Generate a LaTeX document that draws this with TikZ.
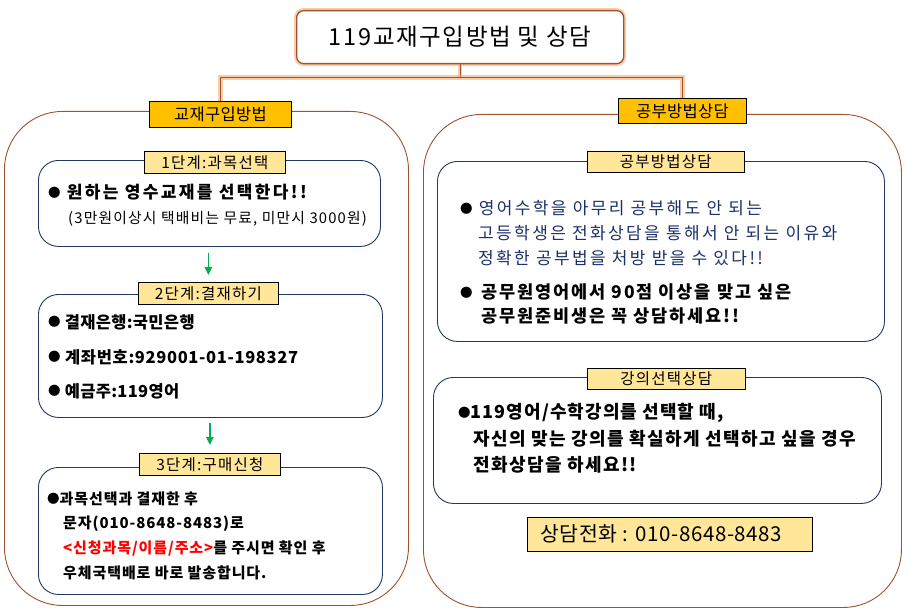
\documentclass[tikz,border=0pt]{standalone}
\usepackage{fontspec}
\setmainfont{Noto Sans CJK KR}
\usetikzlibrary{arrows.meta}
\definecolor{brn}{HTML}{A0522D}
\definecolor{glow}{HTML}{F4A460}
\definecolor{navy}{HTML}{1F3864}
\definecolor{navytxt}{HTML}{1B2F6B}
\definecolor{gold}{HTML}{FFC000}
\definecolor{lite}{HTML}{FFE699}
\definecolor{grn}{HTML}{00B050}
\definecolor{red}{HTML}{FF0000}
\newcommand{\mybul}{{\fontsize{12.5}{12}\selectfont\raisebox{1.2pt}{●}}}
\newcommand{\ls}[1]{\addfontfeatures{LetterSpace=#1}}
\begin{document}
\begin{tikzpicture}[x=1pt,y=-1pt,
  region/.style={draw=brn, line width=0.9, rounded corners=58, anchor=north west, inner sep=0},
  stepbox/.style={draw=navy, line width=0.9, rounded corners=20, anchor=north west, inner sep=0},
  steplab/.style={draw=black, line width=0.7, fill=lite, inner sep=0, anchor=north west, font=\fontsize{15.5}{17}\selectfont\ls{8}},
  seclab/.style={draw=black, line width=0.8, fill=gold, inner sep=0, anchor=north west, font=\fontsize{16.5}{18}\selectfont\ls{2}},
  txt/.style={anchor=west, inner sep=0},
  conn/.style={draw=brn, line width=1.3, preaction={draw=glow, line width=4.5, opacity=0.55}},
  garrow/.style={draw=grn, line width=1.4, -{Triangle[length=8pt,width=7.5pt]}}
]
\useasboundingbox (0,0) rectangle (909,615);

% regions
\node[region, minimum width=404, minimum height=494] (regL) at (4,111) {};
\node[region, minimum width=478, minimum height=493] (regR) at (423,114) {};

% title
\node[draw=brn, line width=1.3, rounded corners=7, fill=white, anchor=north west,
  minimum width=327, minimum height=53, inner sep=0,
  preaction={draw=glow, line width=5, opacity=0.55, rounded corners=7},
  font=\fontsize{23.5}{26}\selectfont\ls{7}] (title) at (296,10) {119교재구입방법 및 상담};

% section labels
\node[seclab, minimum width=142, minimum height=26] (labL) at (149,101) {교재구입방법};
\node[seclab, minimum width=128, minimum height=25] (labR) at (618,98) {공부방법상담};

% connectors
\coordinate (jn) at ([yshift=-13pt]title.south);
\draw[conn] (title.south) -- (jn);
\draw[conn] (labL.north) |- (jn) -| (labR.north);

% left step boxes
\node[stepbox, minimum width=342, minimum height=86] (box1) at (38,160) {};
\node[steplab, minimum width=141, minimum height=22] (lab1) at (144,151) {1단계:과목선택};
\node[stepbox, minimum width=344, minimum height=123] (box2) at (38,294) {};
\node[steplab, minimum width=140, minimum height=22] (lab2) at (138,282) {2단계:결재하기};
\node[stepbox, minimum width=344, minimum height=127] (box3) at (38,467) {};
\node[steplab, minimum width=141, minimum height=22] (lab3) at (139,453) {3단계:구매신청};

\draw[garrow] ([yshift=-6pt]box1.south -| lab2.north) -- ([yshift=7pt]lab2.north);
\draw[garrow] ([yshift=-5pt]box2.south -| lab3.north) -- ([yshift=8pt]lab3.north);

% box1 text
\node[txt, font=\fontsize{17}{20}\selectfont\bfseries\ls{14}] (t11) at (48,192) {\mybul\ 원하는 영수교재를 선택한다!!};
\node[txt, font=\fontsize{14.8}{17}\selectfont\ls{8}] (t12) at (68,219) {(3만원이상시 택배비는 무료, 미만시 3000원)};

% box2 text
\node[txt, font=\fontsize{16.5}{19}\selectfont\bfseries\ls{2}] (t21) at (48,322) {\mybul\ 결재은행:국민은행};
\node[txt, font=\fontsize{16.5}{19}\selectfont\bfseries\ls{4}] (t22) at (48,357) {\mybul\ 계좌번호:929001-01-198327};
\node[txt, font=\fontsize{16.5}{19}\selectfont\bfseries\ls{2}] (t23) at (48,391) {\mybul\ 예금주:119영어};

% box3 text
\node[txt, font=\fontsize{15}{18}\selectfont\bfseries\ls{6}] (t31) at (47,499) {\mybul 과목선택과 결재한 후};
\node[txt, font=\fontsize{15}{18}\selectfont\bfseries\ls{6}] (t32) at (63,524) {문자(010-8648-8483)로};
\node[txt, font=\fontsize{15}{18}\selectfont\bfseries\ls{6}] (t33) at (63,548) {\textcolor{red}{<신청과목/이름/주소>}를 주시면 확인 후};
\node[txt, font=\fontsize{15}{18}\selectfont\bfseries\ls{6}] (t34) at (63,573) {우체국택배로 바로 발송합니다.};

% right boxes
\node[stepbox, minimum width=447, minimum height=180] (box4) at (437,161) {};
\node[steplab, minimum width=157, minimum height=21] (lab4) at (587,151) {공부방법상담};
\node[stepbox, minimum width=448, minimum height=126] (box5) at (433,377) {};
\node[steplab, minimum width=158, minimum height=21] (lab5) at (587,368) {강의선택상담};

\node[txt, font=\fontsize{17}{20}\selectfont\ls{14}] (t41) at (460,208) {\mybul\ \textcolor{navytxt}{영어수학을 아무리 공부해도 안 되는}};
\node[txt, font=\fontsize{17}{20}\selectfont\ls{14}, text=navytxt] (t42) at (478,233) {고등학생은 전화상담을 통해서 안 되는 이유와};
\node[txt, font=\fontsize{17}{20}\selectfont\ls{14}, text=navytxt] (t43) at (478,258) {정확한 공부법을 처방 받을 수 있다!!};
\node[txt, font=\fontsize{17.5}{20}\selectfont\bfseries\ls{11}] (t44) at (460,292) {\mybul\ \,공무원영어에서 90점 이상을 맞고 싶은};
\node[txt, font=\fontsize{17.5}{20}\selectfont\bfseries\ls{11}] (t45) at (481,316) {공무원준비생은 꼭 상담하세요!!};

\node[txt, font=\fontsize{18}{21}\selectfont\bfseries\ls{6}] (t51) at (458,413) {\mybul 119영어/수학강의를 선택할 때,};
\node[txt, font=\fontsize{18}{21}\selectfont\bfseries\ls{8}] (t52) at (473,439) {자신의 맞는 강의를 확실하게 선택하고 싶을 경우};
\node[txt, font=\fontsize{18}{21}\selectfont\bfseries\ls{8}] (t53) at (473,465) {전화상담을 하세요!!};

\node[draw=black, line width=0.8, fill=lite, anchor=north west, inner sep=0,
  minimum width=285, minimum height=34] (phone) at (527,517) {};
\node[txt, font=\fontsize{20.5}{24}\selectfont\ls{3}] (phonetxt) at (540,534) {상담전화 : 010-8648-8483};
\end{tikzpicture}
\end{document}
